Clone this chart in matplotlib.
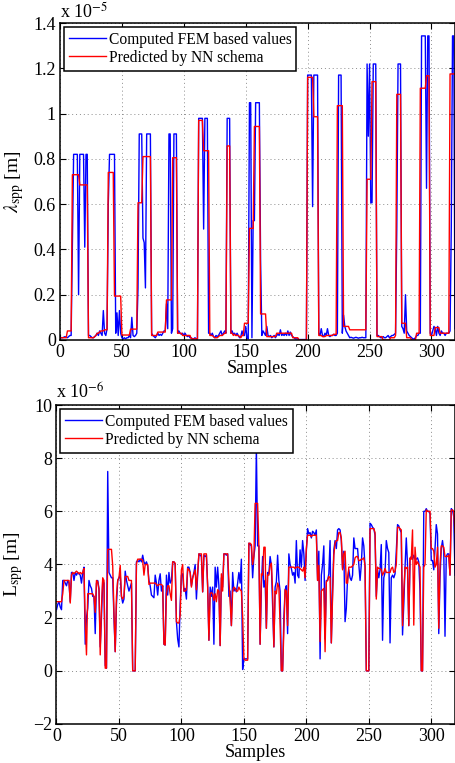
import numpy as np
import matplotlib
matplotlib.use("Agg")
import matplotlib.pyplot as plt
from matplotlib.ticker import FuncFormatter

# ---------------- data (top: lambda_spp, x 1e-5 m) ----------------
top_fem = [
    0.012, 0.01, 0.01, 0.012, 0.015, 0.012, 0.01, 0.015, 0.02, 0.02,      # 0-9
    0.41, 0.82, 0.82, 0.82, 0.82, 0.2, 0.82, 0.82, 0.82, 0.82,            # 10-19
    0.41, 0.82, 0.82, 0.02, 0.02, 0.015, 0.01, 0.01, 0.015, 0.02,         # 20-29
    0.03, 0.02, 0.04, 0.03, 0.02, 0.13, 0.03, 0.02, 0.05, 0.6,            # 30-39
    0.82, 0.82, 0.82, 0.82, 0.82, 0.03, 0.12, 0.02, 0.13, 0.03,           # 40-49
    0.01, 0.005, 0.01, 0.005, 0.01, 0.01, 0.02, 0.01, 0.1, 0.02,          # 50-59
    0.015, 0.02, 0.03, 0.23, 0.91, 0.91, 0.91, 0.45, 0.43, 0.23,          # 60-69
    0.91, 0.91, 0.91, 0.91, 0.03, 0.02, 0.015, 0.01, 0.02, 0.03,          # 70-79
    0.02, 0.025, 0.02, 0.03, 0.04, 0.04, 0.16, 0.05, 0.91, 0.91,          # 80-89
    0.03, 0.05, 0.91, 0.91, 0.91, 0.03, 0.04, 0.03, 0.025, 0.03,          # 90-99
    0.02, 0.03, 0.02, 0.015, 0.02, 0.01, 0.01, 0.005, 0.005, 0.01,        # 100-109
    0.005, 0.005, 0.979, 0.979, 0.979, 0.979, 0.49, 0.979, 0.979, 0.979,  # 110-119
    0.03, 0.03, 0.02, 0.03, 0.015, 0.01, 0.02, 0.015, 0.02, 0.03,         # 120-129
    0.04, 0.02, 0.03, 0.04, 0.03, 0.979, 0.979, 0.979, 0.03, 0.04,        # 130-139
    0.025, 0.03, 0.02, 0.03, 0.02, 0.01, 0.015, 0.04, 0.02, 0.02,         # 140-149
    0.06, 0.01, 0.005, 1.048, 1.048, 0.01, 0.527, 0.527, 1.048, 1.048,    # 150-159
    1.048, 1.048, 0.353, 0.02, 0.04, 0.03, 0.02, 0.06, 0.02, 0.015,       # 160-169
    0.02, 0.01, 0.015, 0.02, 0.01, 0.02, 0.025, 0.02, 0.045, 0.02,        # 170-179
    0.025, 0.02, 0.03, 0.02, 0.04, 0.02, 0.035, 0.02, 0.015, 0.01,        # 180-189
    0.005, 0.005, 0.005, 0.002, 0.002, 0.002, 0.002, 0.002, 0.002, 0.002, # 190-199
    1.17, 1.17, 1.17, 1.17, 0.589, 1.17, 1.17, 1.17, 1.17, 0.03,          # 200-209
    0.02, 0.05, 0.02, 0.015, 0.03, 0.02, 0.05, 0.02, 0.015, 0.02,         # 210-219
    0.02, 0.025, 0.02, 0.02, 0.03, 1.17, 1.17, 1.17, 0.03, 0.11,          # 220-229
    0.06, 0.04, 0.03, 0.02, 0.01, 0.012, 0.01, 0.008, 0.01, 0.012,        # 230-239
    0.01, 0.008, 0.01, 0.01, 0.012, 0.01, 0.01, 0.01, 1.219, 0.9,         # 240-249
    1.219, 0.606, 0.606, 1.219, 1.219, 1.219, 0.02, 0.02, 0.015, 0.01,    # 250-259
    0.01, 0.015, 0.01, 0.01, 0.015, 0.02, 0.01, 0.015, 0.02, 0.02,        # 260-269
    0.025, 0.03, 0.5, 1.219, 1.219, 1.219, 0.06, 0.05, 0.03, 0.2,         # 270-279
    0.04, 0.03, 0.02, 0.015, 0.01, 0.005, 0.005, 0.01, 0.02, 0.02,        # 280-289
    0.03, 0.03, 1.343, 1.343, 1.343, 1.343, 0.67, 1.343, 1.343, 0.03,     # 290-299
    0.02, 0.04, 0.06, 0.05, 0.02, 0.06, 0.03, 0.02, 0.04, 0.03,           # 300-309
    0.03, 0.02, 0.03, 0.03, 0.03, 0.04, 0.5, 1.343, 1.343, 0.05,          # 310-319
]
top_nn = [
    0.01, 0.01, 0.01, 0.01, 0.01, 0.01, 0.04, 0.04, 0.04, 0.04,           # 0-9
    0.73, 0.73, 0.73, 0.73, 0.73, 0.73, 0.685, 0.685, 0.685, 0.685,       # 10-19
    0.685, 0.685, 0.685, 0.01, 0.01, 0.01, 0.01, 0.01, 0.015, 0.02,       # 20-29
    0.03, 0.03, 0.035, 0.04, 0.04, 0.04, 0.045, 0.045, 0.045, 0.74,       # 30-39
    0.74, 0.74, 0.74, 0.74, 0.194, 0.194, 0.194, 0.194, 0.194, 0.194,     # 40-49
    0.022, 0.022, 0.022, 0.022, 0.022, 0.022, 0.022, 0.048, 0.048, 0.048, # 50-59
    0.048, 0.048, 0.048, 0.606, 0.606, 0.606, 0.606, 0.81, 0.81, 0.81,    # 60-69
    0.81, 0.81, 0.81, 0.81, 0.02, 0.02, 0.02, 0.02, 0.02, 0.035,          # 70-79
    0.035, 0.035, 0.035, 0.035, 0.035, 0.035, 0.177, 0.177, 0.177, 0.177, # 80-89
    0.177, 0.805, 0.805, 0.805, 0.805, 0.03, 0.03, 0.03, 0.03, 0.02,      # 90-99
    0.02, 0.02, 0.02, 0.02, 0.02, 0.02, 0.005, 0.005, 0.005, 0.005,       # 100-109
    0.005, 0.005, 0.97, 0.97, 0.97, 0.97, 0.836, 0.836, 0.836, 0.836,     # 110-119
    0.836, 0.02, 0.02, 0.02, 0.015, 0.01, 0.01, 0.01, 0.015, 0.02,        # 120-129
    0.02, 0.02, 0.025, 0.03, 0.03, 0.857, 0.857, 0.857, 0.03, 0.03,       # 130-139
    0.02, 0.025, 0.02, 0.02, 0.02, 0.015, 0.01, 0.02, 0.02, 0.074,        # 140-149
    0.074, 0.074, 0.074, 0.493, 0.493, 0.493, 0.493, 0.943, 0.943, 0.943, # 150-159
    0.943, 0.943, 0.115, 0.115, 0.115, 0.115, 0.115, 0.015, 0.015, 0.015, # 160-169
    0.015, 0.015, 0.015, 0.015, 0.015, 0.03, 0.03, 0.03, 0.03, 0.03,      # 170-179
    0.03, 0.03, 0.03, 0.03, 0.03, 0.03, 0.03, 0.03, 0.01, 0.01,           # 180-189
    0.01, 0.01, 0.01, 0.0, 0.0, 0.0, 0.0, 0.0, 0.0, 0.0,                  # 190-199
    1.16, 1.16, 1.16, 1.16, 1.16, 0.986, 0.986, 0.986, 0.986, 0.02,       # 200-209
    0.02, 0.02, 0.015, 0.015, 0.015, 0.02, 0.02, 0.02, 0.02, 0.02,        # 210-219
    0.02, 0.025, 0.025, 0.025, 1.035, 1.035, 1.035, 1.035, 1.035, 0.06,   # 220-229
    0.06, 0.06, 0.06, 0.06, 0.045, 0.045, 0.045, 0.045, 0.045, 0.045,     # 230-239
    0.045, 0.045, 0.045, 0.045, 0.045, 0.045, 0.045, 0.045, 0.71, 0.71,   # 240-249
    0.71, 0.71, 1.141, 1.141, 1.141, 1.141, 0.015, 0.015, 0.015, 0.015,   # 250-259
    0.015, 0.0, 0.0, 0.0, 0.0, 0.0, 0.0, 0.01, 0.01, 0.01,                # 260-269
    0.01, 0.02, 1.085, 1.085, 1.085, 1.085, 0.074, 0.074, 0.074, 0.074,   # 270-279
    0.01, 0.01, 0.01, 0.01, 0.0, 0.0, 0.0, 0.0, 0.03, 0.03,               # 280-289
    0.03, 1.112, 1.112, 1.112, 1.112, 1.112, 1.167, 1.167, 1.167, 0.02,   # 290-299
    0.02, 0.02, 0.02, 0.055, 0.055, 0.055, 0.055, 0.03, 0.03, 0.03,       # 300-309
    0.03, 0.03, 0.03, 0.03, 0.03, 1.175, 1.175, 1.175, 1.175, 1.175,      # 310-319
]

# ---------------- data (bottom: L_spp, x 1e-6 m) ----------------
bot_fem = [
    2.3, 2.5, 2.6, 2.4, 2.3, 3.4, 3.4, 3.3, 3.2, 3.4,         # 0-9
    3.3, 2.6, 3.7, 3.7, 3.4, 3.7, 3.6, 3.7, 3.65, 3.6,        # 10-19
    3.3, 3.7, 3.9, 1.0, 2.0, 2.35, 3.4, 3.2, 3.1, 2.8,        # 20-29
    2.8, 1.4, 3.3, 3.4, 3.1, 0.9, 2.0, 3.4, 3.3, 0.2,         # 30-39
    0.1, 7.5, 3.7, 3.6, 3.5, 3.5, 2.0, 0.72, 2.5, 3.4,        # 40-49
    3.5, 3.6, 2.8, 2.55, 2.7, 3.75, 3.4, 3.2, 3.0, 3.15,      # 50-59
    3.3, 0.0, 0.0, 0.0, 4.1, 4.15, 4.1, 4.2, 4.1, 4.35,       # 60-69
    4.1, 4.0, 4.1, 3.95, 3.4, 3.2, 2.85, 2.8, 2.75, 3.6,      # 70-79
    3.3, 2.85, 3.4, 3.65, 3.0, 3.2, 1.0, 0.97, 3.6, 2.85,     # 80-89
    3.7, 3.3, 3.4, 4.1, 4.1, 4.0, 1.85, 1.2, 0.9, 2.5,        # 90-99
    3.6, 3.65, 3.0, 3.1, 2.7, 3.9, 3.9, 3.7, 3.2, 3.5,        # 100-109
    3.7, 4.0, 2.7, 3.6, 4.4, 4.35, 4.3, 2.97, 4.35, 4.3,      # 110-119
    4.35, 3.2, 1.15, 3.15, 2.8, 3.15, 1.0, 3.9, 3.15, 3.9,    # 120-129
    3.2, 0.95, 3.5, 3.15, 4.4, 4.4, 4.35, 4.4, 2.8, 3.0,      # 130-139
    1.7, 3.7, 3.0, 3.1, 2.97, 3.3, 3.7, 3.3, 4.2, 0.05,       # 140-149
    0.45, 0.45, 0.45, 0.45, 4.8, 4.75, 4.7, 3.5, 4.3, 4.7,    # 150-159
    8.4, 4.7, 4.7, 1.0, 3.15, 4.3, 3.15, 3.4, 1.6, 3.7,       # 160-169
    3.65, 4.3, 3.97, 2.5, 0.9, 3.15, 3.35, 4.35, 3.4, 3.0,    # 170-179
    0.0, 0.0, 2.0, 3.05, 3.2, 1.4, 4.4, 4.0, 3.85, 3.6,       # 180-189
    3.7, 3.3, 4.9, 3.6, 3.5, 4.55, 3.9, 4.9, 4.4, 3.4,        # 190-199
    4.5, 5.35, 5.15, 5.2, 5.0, 5.25, 5.2, 5.1, 5.3, 3.4,      # 200-209
    4.5, 0.45, 3.6, 4.0, 4.7, 1.2, 3.4, 3.4, 3.65, 4.9,       # 210-219
    1.05, 3.0, 4.55, 4.9, 4.6, 5.3, 5.35, 5.3, 4.9, 3.85,     # 220-229
    4.5, 1.85, 2.35, 3.5, 3.8, 3.5, 3.4, 3.6, 5.0, 4.6,       # 230-239
    4.6, 4.6, 4.0, 3.4, 4.0, 5.0, 4.7, 3.9, 0.0, 0.0,         # 240-249
    0.0, 5.55, 5.5, 5.4, 5.35, 5.1, 2.8, 3.8, 3.5, 3.8,       # 250-259
    4.75, 1.15, 3.5, 3.7, 4.9, 4.6, 4.45, 1.05, 3.5, 3.6,     # 260-269
    3.5, 3.65, 4.5, 5.5, 5.45, 5.3, 5.2, 1.35, 2.5, 3.9,      # 270-279
    5.0, 4.0, 1.7, 4.2, 4.3, 4.2, 4.35, 4.2, 4.2, 4.25,       # 280-289
    4.1, 3.0, 0.0, 0.0, 6.0, 6.0, 6.1, 6.0, 6.0, 5.9,         # 290-299
    4.15, 4.15, 3.8, 4.6, 5.5, 5.15, 1.4, 3.5, 4.6, 4.9,      # 300-309
    4.5, 1.3, 4.3, 4.4, 4.4, 3.6, 6.1, 6.05, 5.8, 3.6,        # 310-319
]
bot_nn = [
    2.6, 2.6, 2.6, 2.6, 2.6, 2.9, 3.4, 3.4, 3.4, 3.4,         # 0-9
    3.4, 2.55, 3.6, 3.7, 3.65, 3.7, 3.75, 3.7, 3.65, 3.7,     # 10-19
    3.65, 3.7, 3.85, 1.8, 0.6, 2.9, 2.9, 2.9, 2.9, 2.9,       # 20-29
    2.8, 2.2, 3.4, 3.35, 3.05, 0.6, 2.4, 3.5, 3.4, 0.1,       # 30-39
    0.1, 4.57, 4.57, 4.57, 4.57, 3.95, 2.2, 0.72, 2.8, 3.4,   # 40-49
    3.5, 3.97, 2.8, 2.7, 2.8, 3.55, 3.55, 3.55, 3.4, 3.4,     # 50-59
    3.4, 0.0, 0.0, 0.0, 4.03, 4.2, 4.2, 4.2, 4.2, 4.15,       # 60-69
    3.6, 4.0, 4.0, 4.0, 3.25, 3.3, 3.3, 3.3, 3.3, 3.3,        # 70-79
    3.25, 3.2, 3.25, 3.25, 3.25, 3.2, 1.0, 0.97, 2.9, 3.2,    # 80-89
    3.2, 2.9, 2.65, 4.1, 4.1, 4.05, 1.85, 1.8, 1.8, 2.1,      # 90-99
    3.8, 4.0, 3.0, 3.0, 3.05, 3.85, 3.8, 3.7, 3.15, 3.5,      # 100-109
    3.65, 3.8, 3.05, 3.7, 4.4, 4.4, 4.4, 2.97, 4.4, 4.4,      # 110-119
    4.4, 3.15, 1.15, 2.9, 2.95, 2.9, 2.65, 2.9, 2.6, 3.05,    # 120-129
    3.0, 0.95, 3.65, 3.0, 4.4, 4.4, 4.4, 4.4, 3.4, 2.6,       # 130-139
    1.7, 3.0, 3.15, 3.1, 3.0, 3.0, 3.15, 3.05, 3.0, 2.05,     # 140-149
    0.45, 0.4, 0.4, 0.4, 4.8, 4.8, 4.75, 4.0, 4.3, 6.3,       # 150-159
    6.3, 6.3, 4.7, 1.0, 3.65, 3.6, 4.65, 4.65, 1.6, 3.6,      # 160-169
    3.6, 3.97, 4.05, 3.0, 0.9, 3.0, 2.9, 3.3, 3.15, 1.7,      # 170-179
    0.0, 0.0, 1.5, 3.05, 3.0, 1.7, 3.9, 3.9, 3.9, 3.9,        # 180-189
    3.9, 3.85, 3.9, 3.9, 3.9, 3.85, 3.8, 3.75, 3.9, 3.5,      # 190-199
    4.6, 5.1, 5.1, 5.1, 5.05, 5.1, 5.1, 5.1, 5.1, 3.4,        # 200-209
    3.97, 1.1, 3.0, 3.05, 3.1, 0.72, 3.35, 3.4, 3.55, 3.5,    # 210-219
    1.05, 2.8, 4.35, 4.8, 4.9, 4.9, 5.2, 5.2, 5.0, 3.8,       # 220-229
    4.4, 4.5, 3.3, 3.3, 3.9, 3.9, 3.9, 3.95, 4.0, 4.25,       # 230-239
    4.3, 4.3, 4.15, 4.15, 4.2, 4.2, 4.25, 3.95, 0.0, 0.0,     # 240-249
    0.0, 5.35, 5.35, 5.35, 5.35, 5.2, 2.7, 3.9, 3.85, 3.85,   # 250-259
    3.8, 3.6, 3.7, 3.85, 3.7, 3.7, 3.7, 3.7, 3.85, 3.9,       # 260-269
    3.7, 3.75, 4.0, 5.4, 5.4, 5.35, 5.3, 1.7, 3.0, 3.9,       # 270-279
    3.85, 3.9, 1.7, 4.25, 4.2, 5.3, 1.72, 4.65, 4.0, 4.1,     # 280-289
    4.0, 3.9, 0.0, 0.0, 3.9, 4.0, 6.05, 6.0, 6.0, 6.0,        # 290-299
    4.6, 4.6, 4.5, 3.9, 4.0, 4.65, 1.6, 4.0, 4.7, 4.7,        # 300-309
    4.65, 4.3, 4.3, 4.3, 4.35, 3.6, 6.05, 6.05, 6.0, 5.2,     # 310-319
]

legend_labels = ["Computed FEM based values", "Predicted by NN schema"]

# ---------------- style ----------------
plt.rcParams['font.family'] = ['Liberation Serif', 'DejaVu Serif']
plt.rcParams['mathtext.fontset'] = 'stix'
plt.rcParams['font.size'] = 12

W, H = 456, 763
fig = plt.figure(figsize=(W / 100, H / 100), dpi=100)

def style_axes(ax):
    ax.tick_params(direction='in', top=True, right=True, length=4, width=0.8,
                   labelsize=13, pad=3)
    for s in ax.spines.values():
        s.set_linewidth(1.1)
    ax.grid(True, linestyle=(0, (1, 3)), color='0.55', linewidth=0.7)
    ax.set_axisbelow(True)

def add_legend(ax):
    leg = ax.legend(loc='upper left', fontsize=11.2, frameon=True, fancybox=False,
                    edgecolor='black', framealpha=1, handlelength=2.4,
                    borderaxespad=0.25, borderpad=0.3, labelspacing=0.15,
                    handletextpad=0.2)
    leg.get_frame().set_linewidth(1.1)
    return leg

# ---- top panel ----
ax1 = fig.add_axes([60 / W, 1 - 340 / H, (455 - 60) / W, (340 - 23) / H])
x1 = np.arange(len(top_fem))
ax1.plot(x1, top_fem, color='#0000ff', lw=1.0, label=legend_labels[0])
ax1.plot(x1, top_nn, color='#ff0000', lw=1.0, label=legend_labels[1])
ax1.set_xlim(0, 319)
ax1.set_ylim(0, 1.4)
ax1.set_xticks([0, 50, 100, 150, 200, 250, 300])
ax1.set_yticks([0, 0.2, 0.4, 0.6, 0.8, 1.0, 1.2, 1.4])
ax1.yaxis.set_major_formatter(FuncFormatter(lambda v, p: ('%g' % v)))
style_axes(ax1)
ax1.set_xlabel('Samples', fontsize=13, labelpad=-1)
ax1.set_ylabel(r'$\lambda_{\rm spp}$ [m]', fontsize=14, labelpad=5)
add_legend(ax1)
fig.text(60 / W, 1 - 12 / H, r'x 10$^{-5}$', fontsize=13, va='center', ha='left')

# ---- bottom panel ----
ax2 = fig.add_axes([56.5 / W, 1 - 724 / H, (455 - 56.5) / W, (724 - 405) / H])
x2 = np.arange(len(bot_fem))
ax2.plot(x2, bot_fem, color='#0000ff', lw=1.0, label=legend_labels[0])
ax2.plot(x2, bot_nn, color='#ff0000', lw=1.0, label=legend_labels[1])
ax2.set_xlim(0, 319)
ax2.set_ylim(-2, 10)
ax2.set_xticks([0, 50, 100, 150, 200, 250, 300])
ax2.set_yticks([-2, 0, 2, 4, 6, 8, 10])
ax2.yaxis.set_major_formatter(FuncFormatter(lambda v, p: ('%g' % v).replace('-', '\u2212')))
style_axes(ax2)
ax2.set_xlabel('Samples', fontsize=13, labelpad=-1)
ax2.set_ylabel(r'L$_{\rm spp}$ [m]', fontsize=14, labelpad=6)
add_legend(ax2)
fig.text(56.5 / W, 1 - 393 / H, r'x 10$^{-6}$', fontsize=13, va='center', ha='left')

fig.savefig('out.png', dpi=100)
